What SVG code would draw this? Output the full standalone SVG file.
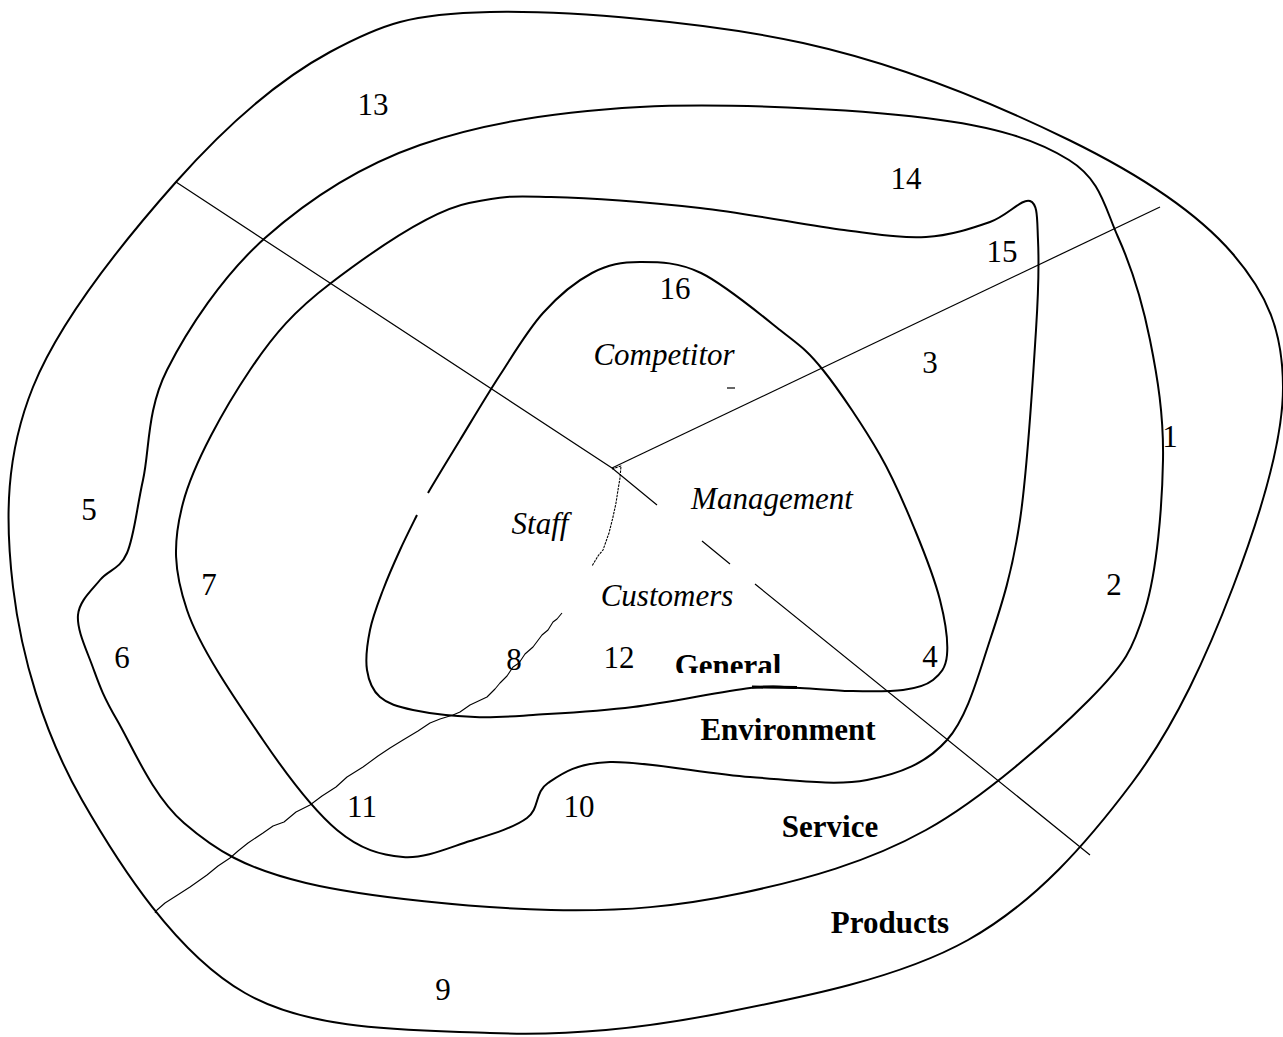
<svg xmlns="http://www.w3.org/2000/svg" width="1283" height="1037" viewBox="0 0 1283 1037">
<style>
.ring{fill:none;stroke:#000;stroke-width:2}
.div{fill:none;stroke:#000;stroke-width:1.2}
.wavy{fill:none;stroke:#000;stroke-width:1.1;stroke-linejoin:round}
text{font-family:"Liberation Serif","Times New Roman",serif;font-size:31px;fill:#000}
.num{text-anchor:middle}
.it{font-style:italic;text-anchor:middle}
.bd{font-weight:bold;text-anchor:middle}
</style>
<defs>
<clipPath id="genclip"><rect x="660" y="640" width="140" height="33"/></clipPath>
</defs>
<rect width="1283" height="1037" fill="#fff"/>
<g id="ring-products">
<path class="ring" d="M490,12 C568.8,10.5 706.5,21.7 803,43 C899.5,64.3 997.5,105 1069,140 C1140.5,175 1196.3,211.8 1232,253 C1267.7,294.2 1282.8,331.3 1283,387 C1283.2,442.7 1258.2,521 1233,587 C1207.8,653 1176.2,724.2 1132,783 C1087.8,841.8 1036.3,901.7 968,940 C899.7,978.3 801.7,997.5 722,1013 C642.3,1028.5 569.5,1036.3 490,1033 C410.5,1029.7 313,1031.8 245,993 C177,954.2 120.7,867.7 82,800 C43.3,732.3 21.2,655.8 13,587 C4.8,518.2 5.8,454.5 33,387 C60.2,319.5 126.5,237.8 176,182 C225.5,126.2 277.7,80.3 330,52 C382.3,23.7 411.2,13.5 490,12 Z"/>
</g>
<g id="ring-service">
<path class="ring" d="M640,107 C724.3,102.5 854.5,109.2 926,118 C997.5,126.8 1037,140.2 1069,160 C1101,179.8 1104.5,207 1118,237 C1131.5,267 1142.5,302.8 1150,340 C1157.5,377.2 1163.8,415 1163,460 C1162.2,505 1157.3,570 1145,610 C1132.7,650 1125.5,663.3 1089,700 C1052.5,736.7 983.8,797.8 926,830 C868.2,862.2 804.5,879.7 742,893 C679.5,906.3 623.7,911.7 551,910 C478.3,908.3 367.2,897.5 306,883 C244.8,868.5 215.5,850.2 184,823 C152.5,795.8 132.3,746.3 117,720 C101.7,693.7 98.5,682.5 92,665 C85.5,647.5 76.7,629.2 78,615 C79.3,600.8 91.8,590.3 100,580 C108.2,569.7 119.8,569.7 127,553 C134.2,536.3 136.3,510.5 143,480 C149.7,449.5 146.7,410.3 167,370 C187.3,329.7 222.8,275.5 265,238 C307.2,200.5 357.5,166.8 420,145 C482.5,123.2 555.7,111.5 640,107 Z"/>
</g>
<g id="ring-environment">
<path class="ring" d="M551,197 C589.5,197.8 651.2,202.5 700,208 C748.8,213.5 806.3,225.2 844,230 C881.7,234.8 901.7,238.3 926,237 C950.3,235.7 972.7,228 990,222 C1007.3,216 1022,198 1030,201 C1038,204 1037,218.5 1038,240 C1039,261.5 1039,283.3 1036,330 C1033,376.7 1027.7,468.3 1020,520 C1012.3,571.7 1002.2,603.3 990,640 C977.8,676.7 967.5,716.7 947,740 C926.5,763.3 899.8,773.8 867,780 C834.2,786.2 792.8,780 750,777 C707.2,774 643.7,761 610,762 C576.3,763 561.8,773.7 548,783 C534.2,792.3 540,808.3 527,818 C514,827.7 490.7,834.5 470,841 C449.3,847.5 425.2,858.8 403,857 C380.8,855.2 360.3,849.5 337,830 C313.7,810.5 288,776.7 263,740 C238,703.3 200.3,649.5 187,610 C173.7,570.5 172.5,543 183,503 C193.5,463 225.3,406.7 250,370 C274.7,333.3 294.5,310.8 331,283 C367.5,255.2 429,211 469,203 C509,195 512.5,196.2 551,197 Z"/>
</g>
<g id="ring-general">
<path class="ring" d="M417,515 C412.3,524.5 405.7,537.5 400,550 C394.3,562.5 388,576.7 383,590 C378,603.3 372.7,616.7 370,630 C367.3,643.3 365.3,658.8 367,670 C368.7,681.2 372.3,690.3 380,697 C387.7,703.7 397.2,706.7 413,710 C428.8,713.3 455,716.2 475,717 C495,717.8 506.7,716.7 533,715 C559.3,713.3 596.8,711.5 633,707 C669.2,702.5 722.2,691.2 750,688 C777.8,684.8 783.3,687.5 800,688 C816.7,688.5 832.8,690.7 850,691 C867.2,691.3 889.2,691.8 903,690 C916.8,688.2 925.7,685.8 933,680 C940.3,674.2 945.8,668.3 947,655 C948.2,641.7 945.3,620.8 940,600 C934.7,579.2 925,554.2 915,530 C905,505.8 895.3,481.7 880,455 C864.7,428.3 839.7,390.8 823,370 C806.3,349.2 800.3,346.2 780,330 C759.7,313.8 724.3,284.3 701,273 C677.7,261.7 658.2,262 640,262 C621.8,262 608.2,264.5 592,273 C575.8,281.5 558.3,296 543,313 C527.7,330 513.8,353.8 500,375 C486.2,396.2 472,420.3 460,440 C448,459.7 435.2,480.5 428,493"/>
<path fill="none" stroke="#000" stroke-width="3" d="M752,687 L797,687.5"/>
</g>
<g id="connectors">
<path class="div" d="M176,182 L612,468 L657,505 M702,541 L730,564 M755,584 L1090,855"/>
<path class="div" d="M612,468 L1160,207"/>
<path class="div" d="M727,388 L735,388"/>
<path class="wavy" stroke-dasharray="2.5 1" d="M612,469 L621,466 L620,478 L618,490 L616,503 L613,517 L609,533 L603,550 L598,556 L592,566"/>
<path class="wavy" d="M562,613 L557,619 L553,622 L548,630 L542,635 L533,647 L525,654 L519,663 L513,667 L507,676 L500,683 L495,689 L487,697 L470,705 L460,712 L453,715 L440,719 L430,723 L418,731 L403,740 L390,748 L378,756 L363,767 L347,777 L336,787 L322,796 L310,805 L296,812 L284,822 L273,826 L263,833 L248,843 L238,851 L230,858 L218,866 L207,875 L190,887 L176,896 L165,903 L157,910 L155,913"/>
</g>
<g id="labels">
<text class="num" x="373" y="115">13</text>
<text class="num" x="906" y="189">14</text>
<text class="num" x="1002" y="262">15</text>
<text class="num" x="675" y="299">16</text>
<text class="num" x="930" y="373">3</text>
<text class="num" x="1170" y="447">1</text>
<text class="num" x="1114" y="595">2</text>
<text class="num" x="89" y="520">5</text>
<text class="num" x="209" y="595">7</text>
<text class="num" x="122" y="668">6</text>
<text class="num" x="514" y="670">8</text>
<text class="num" x="619" y="668">12</text>
<text class="num" x="930" y="667">4</text>
<text class="num" x="362" y="817">11</text>
<text class="num" x="579" y="817">10</text>
<text class="num" x="443" y="1000">9</text>
<text class="it" x="664" y="365">Competitor</text>
<text class="it" x="772" y="509">Management</text>
<text class="it" x="540" y="534">Staff</text>
<text class="it" x="667" y="606">Customers</text>
<text class="bd" x="728" y="676" clip-path="url(#genclip)">General</text>
<text class="bd" x="788" y="740">Environment</text>
<text class="bd" x="830" y="837">Service</text>
<text class="bd" x="890" y="933">Products</text>
</g>
</svg>
